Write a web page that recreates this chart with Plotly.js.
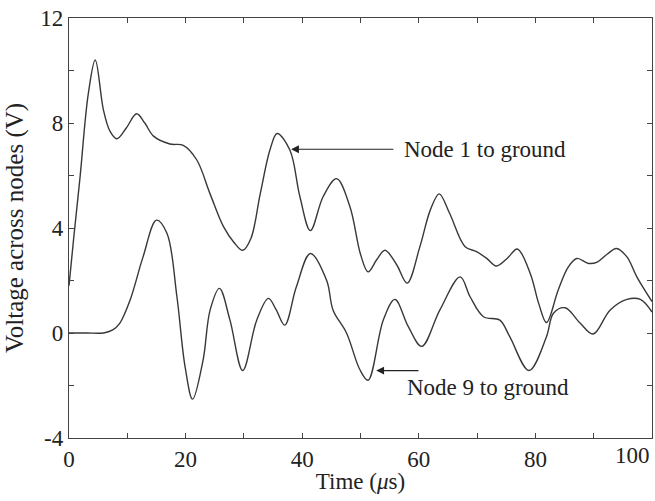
<!DOCTYPE html>
<html>
<head>
<meta charset="utf-8">
<script src="https://cdn.plot.ly/plotly-3.0.1.min.js"></script>
<style>
html,body{margin:0;padding:0;background:#fff;}
#chart{width:655px;height:501px;}
</style>
</head>
<body>
<div id="chart"></div>
<script>
// Node 1 to ground
const node1T = [0, 0.8, 1.9, 3.3, 4.5, 5.9, 7.0, 8.2, 9.8, 11.6, 13.0, 14.5, 17.3, 19.6, 21.9, 24.2, 26.5, 28.3, 29.8, 31.2, 32.8, 34.5, 35.7, 37.9, 39.6, 41.4, 43.6, 45.9, 48.2, 50.0, 51.3, 52.8, 54.2, 56.2, 58.0, 60.2, 62.0, 63.5, 65.3, 67.9, 69.9, 71.6, 73.3, 75.2, 76.9, 79.1, 80.6, 81.9, 83.9, 85.6, 87.1, 89.1, 90.6, 92.3, 93.9, 95.7, 97.4, 100];
const node1V = [1.8, 3.6, 5.95, 9.1, 10.4, 8.5, 7.7, 7.4, 7.8, 8.35, 8.0, 7.5, 7.2, 7.15, 6.6, 5.3, 4.05, 3.45, 3.15, 3.6, 5.3, 7.0, 7.6, 6.96, 5.2, 3.9, 5.2, 5.88, 4.8, 3.0, 2.33, 2.8, 3.15, 2.6, 1.9, 3.3, 4.7, 5.3, 4.55, 3.3, 3.1, 2.85, 2.55, 2.85, 3.2, 2.28, 1.1, 0.4, 1.63, 2.5, 2.84, 2.65, 2.7, 3.0, 3.22, 2.9, 2.14, 1.2];

// Node 9 to ground
const node9T = [0, 3.0, 5.9, 7.5, 8.7, 10.5, 12.7, 15.0, 16.8, 18.5, 19.9, 21.2, 23.0, 24.2, 25.8, 27.6, 29.8, 32.2, 34.2, 35.5, 37.0, 39.0, 41.4, 44.2, 45.3, 47.6, 49.9, 51.3, 53.9, 55.9, 58.2, 60.5, 63.6, 67.1, 68.8, 71.1, 73.9, 75.6, 78.9, 81.9, 83.1, 85.1, 87.7, 89.9, 92.8, 95.7, 98.0, 100];
const node9V = [0, 0, 0, 0.12, 0.37, 1.27, 2.9, 4.3, 3.8, 1.4, -1.27, -2.52, -1.03, 0.87, 1.7, 0.5, -1.43, 0.49, 1.32, 0.9, 0.3, 1.76, 3.03, 2.0, 0.87, 0.0, -1.4, -1.8, 0.49, 1.28, 0.24, -0.51, 0.87, 2.14, 1.38, 0.62, 0.49, -0.14, -1.43, -0.14, 0.75, 0.96, 0.37, -0.04, 0.87, 1.28, 1.28, 0.8];

const xTickVals = [0, 10, 20, 30, 40, 50, 60, 70, 80, 90, 100];
const xTickText = ['0', '', '20', '', '40', '', '60', '', '80', '', ''];
const xLastLabel = '100';
const yTickVals = [-4, -2, 0, 2, 4, 6, 8, 10, 12];
const yTickText = ['-4', '', '0', '', '4', '', '8', '', '12'];

const lineColor = '#383838';
const font = {family: 'Liberation Serif, Times New Roman, serif', size: 23, color: '#222'};
const yTitleFont = {family: 'Liberation Serif, Times New Roman, serif', size: 25, color: '#222'};

const traces = [
  {x: node1T, y: node1V, type: 'scatter', mode: 'lines', name: 'Node 1 to ground',
   line: {color: lineColor, width: 1.4, shape: 'spline', smoothing: 1}},
  {x: node9T, y: node9V, type: 'scatter', mode: 'lines', name: 'Node 9 to ground',
   line: {color: lineColor, width: 1.4, shape: 'spline', smoothing: 1}}
];

const axisCommon = {
  showgrid: false, zeroline: false, showline: true, mirror: 'ticks',
  linecolor: '#444', linewidth: 1.2, ticks: 'inside', ticklen: 5, tickcolor: '#444',
  tickfont: font
};

const layout = {
  width: 655, height: 501,
  margin: {l: 69, r: 3, t: 18, b: 63},
  paper_bgcolor: '#fff', plot_bgcolor: '#fff',
  showlegend: false,
  font: font,
  xaxis: Object.assign({}, axisCommon, {
    range: [0, 100], tickmode: 'array', tickvals: xTickVals, ticktext: xTickText,
    title: {text: 'Time (<i>μ</i>s)', font: font, standoff: 2}
  }),
  yaxis: Object.assign({}, axisCommon, {
    range: [-4, 12], tickmode: 'array', tickvals: yTickVals, ticktext: yTickText,
    title: {text: 'Voltage across nodes (V)', font: yTitleFont, standoff: 9}
  }),
  annotations: [
    {x: 100, y: 0, xref: 'x', yref: 'paper', text: xLastLabel, showarrow: false,
     xanchor: 'right', yanchor: 'top', yshift: -3, font: font},
    {x: 38.1, y: 7.0, ax: 55.9, ay: 7.0, axref: 'x', ayref: 'y', xref: 'x', yref: 'y',
     showarrow: true, arrowhead: 2, arrowsize: 1.3, arrowwidth: 1.2, arrowcolor: '#222', text: ''},
    {x: 57.2, y: 7.0, xref: 'x', yref: 'y', text: 'Node 1 to ground', showarrow: false,
     xanchor: 'left', yanchor: 'middle', font: font},
    {x: 52.7, y: -1.43, ax: 60.2, ay: -1.43, axref: 'x', ayref: 'y', xref: 'x', yref: 'y',
     showarrow: true, arrowhead: 2, arrowsize: 1.3, arrowwidth: 1.2, arrowcolor: '#222', text: ''},
    {x: 57.6, y: -2.09, xref: 'x', yref: 'y', text: 'Node 9 to ground', showarrow: false,
     xanchor: 'left', yanchor: 'middle', font: font}
  ]
};

Plotly.newPlot('chart', traces, layout, {displayModeBar: false, staticPlot: true});
</script>
</body>
</html>
